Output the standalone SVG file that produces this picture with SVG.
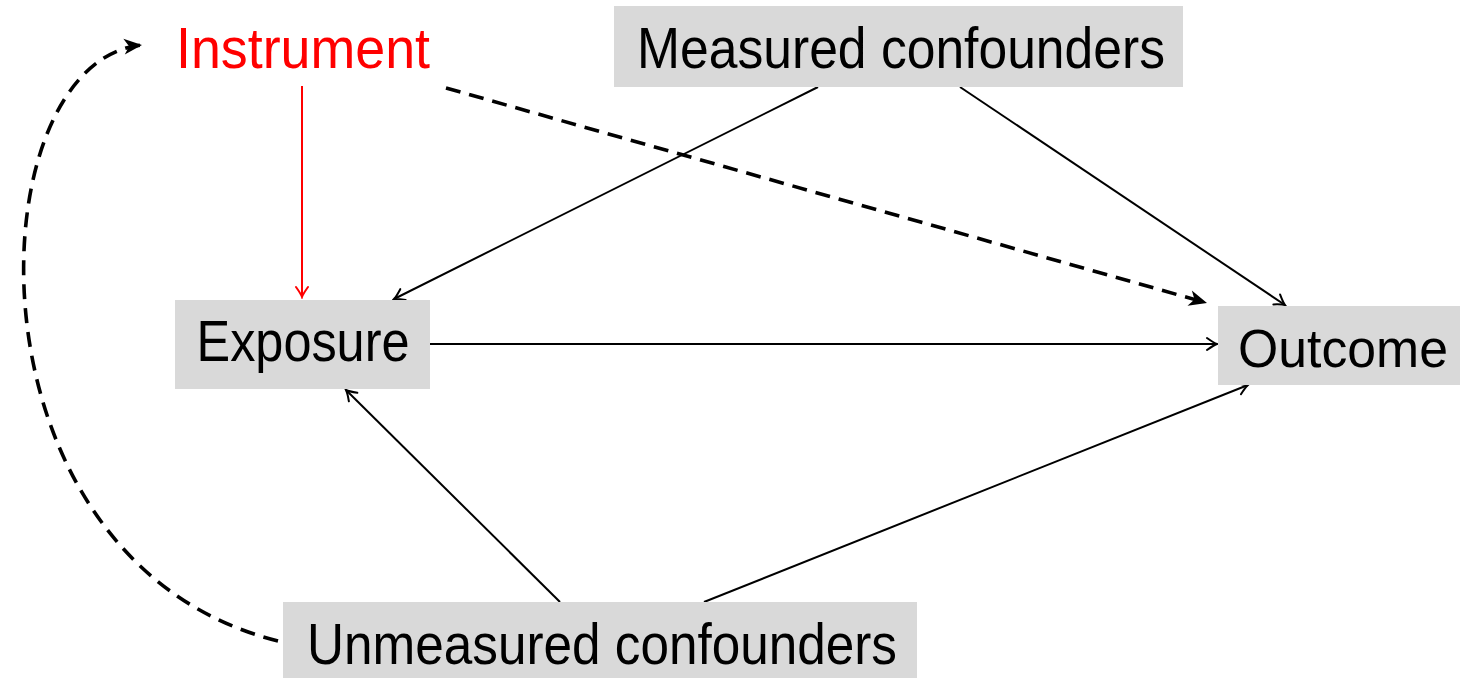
<svg xmlns="http://www.w3.org/2000/svg" width="1460" height="678" viewBox="0 0 1460 678">
<style>
.box{fill:#d9d9d9;stroke:none}
.lbl{font-family:"Liberation Sans","Open Sans",sans-serif;font-size:57px;fill:#000}
.red{fill:#ff0000}
.thin{fill:none;stroke:#000;stroke-width:2}
.dash{fill:none;stroke:#000;stroke-width:3.6;stroke-dasharray:15 9}
</style>
<defs>
<marker id="to" viewBox="-12 -8 14 16" markerWidth="14" markerHeight="16" refX="0" refY="0" orient="auto" markerUnits="userSpaceOnUse">
<path d="M-10,-6 Q-3,-1 0,0 Q-3,1 -10,6" fill="none" stroke="#000" stroke-width="2" stroke-linecap="round"/>
</marker>
<marker id="tored" viewBox="-12 -8 14 16" markerWidth="14" markerHeight="16" refX="0" refY="0" orient="auto" markerUnits="userSpaceOnUse">
<path d="M-10,-6 Q-3,-1 0,0 Q-3,1 -10,6" fill="none" stroke="#ff0000" stroke-width="2" stroke-linecap="round"/>
</marker>
<marker id="stealth" viewBox="-20 -10 22 20" markerWidth="22" markerHeight="20" refX="0" refY="0" orient="auto" markerUnits="userSpaceOnUse">
<path d="M0,0 L-18,-8 L-13,0 L-18,8 Z" fill="#000"/>
</marker>
</defs>
<g id="connectors">
<line class="thin" x1="302" y1="86" x2="302" y2="297" style="stroke:#ff0000" marker-end="url(#tored)"/>
<line class="thin" x1="818" y1="87" x2="394" y2="299" marker-end="url(#to)"/>
<line class="thin" x1="960" y1="87" x2="1285" y2="305" marker-end="url(#to)"/>
<line class="thin" x1="430" y1="344" x2="1217" y2="344" marker-end="url(#to)"/>
<line class="thin" x1="560" y1="602" x2="346" y2="390" marker-end="url(#to)"/>
<line class="thin" x1="704" y1="602" x2="1248" y2="385" marker-end="url(#to)"/>
<path class="dash" d="M446,88 L1207,303" marker-end="url(#stealth)"/>
<path class="dash" d="M278,641 C-45,560 -25,60 142,45" marker-end="url(#stealth)"/>
</g>
<g id="instrument">
<text class="lbl red" x="303" y="68" text-anchor="middle" textLength="254" lengthAdjust="spacingAndGlyphs">Instrument</text>
</g>
<g id="measured">
<rect class="box" x="614" y="6" width="569" height="81"/>
<text class="lbl" x="901" y="68" text-anchor="middle" textLength="528" lengthAdjust="spacingAndGlyphs">Measured confounders</text>
</g>
<g id="exposure">
<rect class="box" x="175" y="300" width="255" height="89"/>
<text class="lbl" x="303" y="361" text-anchor="middle" textLength="213" lengthAdjust="spacingAndGlyphs">Exposure</text>
</g>
<g id="outcome">
<rect class="box" x="1218" y="306" width="242" height="79"/>
<text class="lbl" x="1343" y="367" text-anchor="middle" font-size="54" style="font-size:54px" textLength="210" lengthAdjust="spacingAndGlyphs">Outcome</text>
</g>
<g id="unmeasured">
<rect class="box" x="283" y="602" width="634" height="76"/>
<text class="lbl" x="602" y="664" text-anchor="middle" textLength="590" lengthAdjust="spacingAndGlyphs">Unmeasured confounders</text>
</g>
</svg>
